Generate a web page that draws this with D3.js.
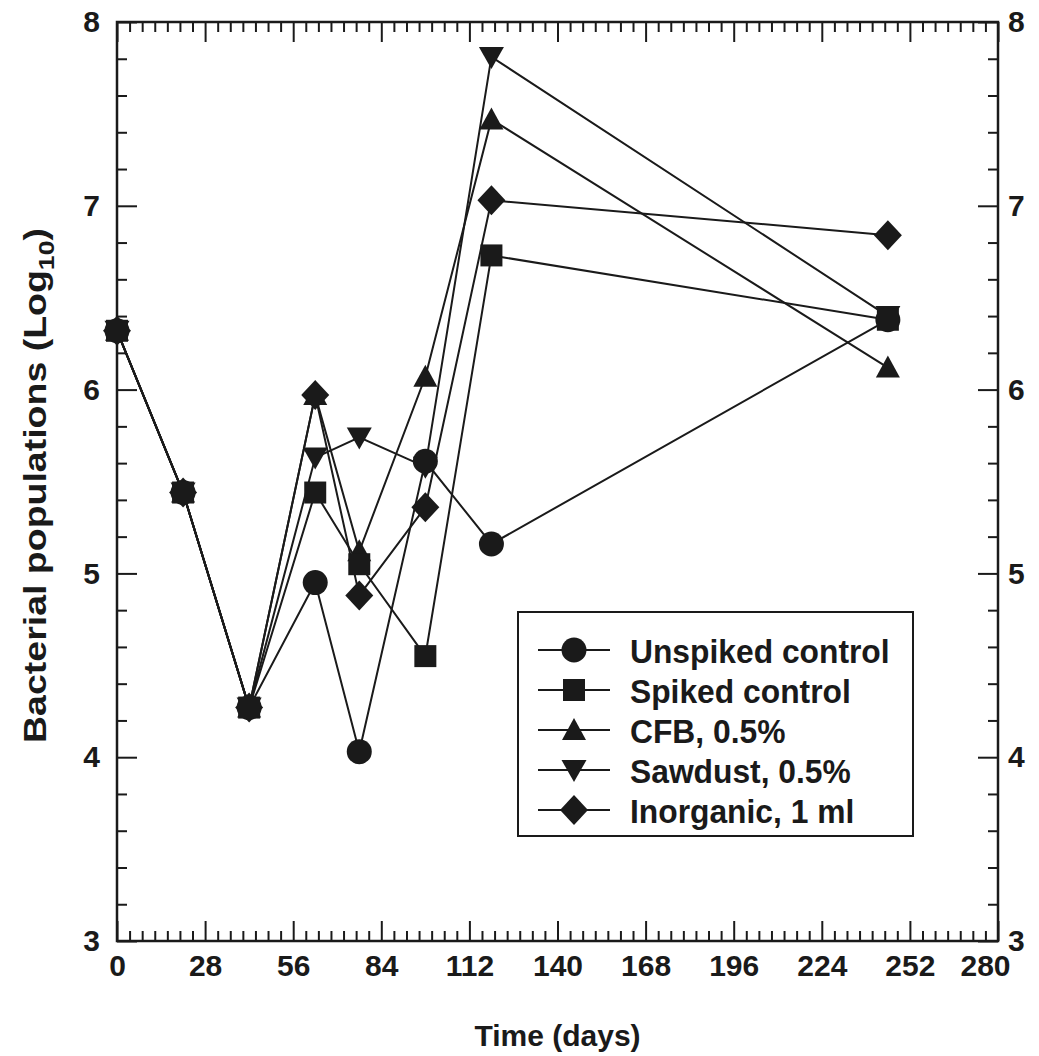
<!DOCTYPE html>
<html>
<head>
<meta charset="utf-8">
<script src="https://cdn.jsdelivr.net/npm/d3@7"></script>
<style>
  html, body { margin: 0; padding: 0; background: #fff; }
  svg { display: block; }
  text { font-family: "Liberation Sans", Arial, sans-serif; font-weight: bold; fill: #1a1a1a; }
</style>
</head>
<body>
<svg id="chart" width="1039" height="1056"></svg>
<script>
// ---- data ----
const days = [0, 21, 42, 63, 77, 98, 119, 245];
const unspiked  = [6.32, 5.44, 4.27, 4.95, 4.03, 5.61, 5.16, 6.38];
const spiked    = [6.32, 5.44, 4.27, 5.44, 5.05, 4.55, 6.73, 6.38];
const cfb       = [6.32, 5.44, 4.27, 5.97, 5.12, 6.07, 7.47, 6.12];
const sawdust   = [6.32, 5.44, 4.27, 5.63, 5.74, 5.58, 7.81, 6.40];
const inorganic = [6.32, 5.44, 4.27, 5.97, 4.88, 5.36, 7.03, 6.84];
const seriesNames = ["Unspiked control", "Spiked control", "CFB, 0.5%", "Sawdust, 0.5%", "Inorganic, 1 ml"];
const seriesSymbols = ["circle", "square", "triangleUp", "triangleDown", "diamond"];
const xTicks = [0, 28, 56, 84, 112, 140, 168, 196, 224, 252, 280];
const yTicks = [3, 4, 5, 6, 7, 8];
const xTitle = "Time (days)";

const seriesValues = [unspiked, spiked, cfb, sawdust, inorganic];
const series = seriesNames.map((name, i) => ({
  name, symbol: seriesSymbols[i],
  points: days.map((d, j) => ({ day: d, value: seriesValues[i][j] }))
}));

// ---- layout ----
const svg = d3.select("#chart");
const x = d3.scaleLinear().domain([0, 280]).range([117, 998]);
const y = d3.scaleLinear().domain([3, 8]).range([941, 22]);
const ink = "#1a1a1a";

// symbol paths
function symbolPath(type) {
  switch (type) {
    case "circle": return "M12.5,0A12.5,12.5 0 1,1 -12.5,0A12.5,12.5 0 1,1 12.5,0Z";
    case "square": return "M-11,-11H11V11H-11Z";
    case "triangleUp": return "M0,-12L12,10L-12,10Z";
    case "triangleDown": return "M0,12L12.5,-10L-12.5,-10Z";
    case "diamond": return "M0,-15L14,0L0,15L-14,0Z";
  }
}

// ---- axes ----
const minorX = d3.range(0, 281, 4).filter(v => v % 28 !== 0);
const minorY = d3.range(3, 8.001, 0.2).map(v => +v.toFixed(1)).filter(v => Math.abs(v - Math.round(v)) > 1e-6);

function styleAxis(g) {
  g.select(".domain").remove();
  g.selectAll(".tick line").attr("stroke", ink).attr("stroke-width", 2);
  g.selectAll(".tick text").style("font-size", "30px").attr("fill", ink);
}

// bottom
svg.append("g").attr("transform", `translate(0,${y(3)})`)
  .call(d3.axisBottom(x).tickValues(xTicks).tickFormat(d3.format("d")).tickSizeInner(-20).tickSizeOuter(0).tickPadding(14))
  .call(styleAxis)
  .call(g => g.selectAll(".tick text").attr("dy", "0.71em")
    .filter(d => d === 280).attr("dx", -13));
svg.append("g").attr("transform", `translate(0,${y(3)})`)
  .call(d3.axisBottom(x).tickValues(minorX).tickFormat("").tickSizeInner(-10).tickSizeOuter(0))
  .call(styleAxis);
// top
svg.append("g").attr("transform", `translate(0,${y(8)})`)
  .call(d3.axisTop(x).tickValues(xTicks).tickFormat("").tickSizeInner(-20).tickSizeOuter(0))
  .call(styleAxis);
svg.append("g").attr("transform", `translate(0,${y(8)})`)
  .call(d3.axisTop(x).tickValues(minorX).tickFormat("").tickSizeInner(-10).tickSizeOuter(0))
  .call(styleAxis);
// left
svg.append("g").attr("transform", `translate(${x(0)},0)`)
  .call(d3.axisLeft(y).tickValues(yTicks).tickFormat(d3.format("d")).tickSizeInner(-20).tickSizeOuter(0).tickPadding(17))
  .call(styleAxis);
svg.append("g").attr("transform", `translate(${x(0)},0)`)
  .call(d3.axisLeft(y).tickValues(minorY).tickFormat("").tickSizeInner(-10).tickSizeOuter(0))
  .call(styleAxis);
// right
svg.append("g").attr("transform", `translate(${x(280)},0)`)
  .call(d3.axisRight(y).tickValues(yTicks).tickFormat(d3.format("d")).tickSizeInner(-20).tickSizeOuter(0).tickPadding(10))
  .call(styleAxis);
svg.append("g").attr("transform", `translate(${x(280)},0)`)
  .call(d3.axisRight(y).tickValues(minorY).tickFormat("").tickSizeInner(-10).tickSizeOuter(0))
  .call(styleAxis);

// frame
svg.append("rect")
  .attr("x", x(0)).attr("y", y(8))
  .attr("width", x(280) - x(0)).attr("height", y(3) - y(8))
  .attr("fill", "none").attr("stroke", ink).attr("stroke-width", 2.5);

// axis titles
svg.append("text")
  .attr("x", (x(0) + x(280)) / 2).attr("y", 1046)
  .attr("text-anchor", "middle").style("font-size", "30px")
  .text(xTitle);

const yt = svg.append("text")
  .attr("transform", `translate(46,${(y(3) + y(8)) / 2 + 4}) rotate(-90) scale(1.21,1)`)
  .attr("text-anchor", "middle").style("font-size", "31px");
yt.append("tspan").text("Bacterial populations (Log");
yt.append("tspan").attr("dy", 8).style("font-size", "22px").text("10");
yt.append("tspan").attr("dy", -8).text(")");

// ---- lines ----
const line = d3.line().x(d => x(d.day)).y(d => y(d.value));
svg.append("g").selectAll("path.series")
  .data(series).join("path")
  .attr("class", "series")
  .attr("d", d => line(d.points))
  .attr("fill", "none").attr("stroke", ink).attr("stroke-width", 2);

// ---- markers (drawing order chosen so overlaps look like the original) ----
const markerOrder = [3, 2, 4, 0, 1];
markerOrder.forEach(i => {
  const s = series[i];
  svg.append("g").selectAll("path")
    .data(s.points).join("path")
    .attr("transform", d => `translate(${x(d.day)},${y(d.value)})`)
    .attr("d", symbolPath(s.symbol))
    .attr("fill", ink);
});

// ---- legend ----
const lg = svg.append("g");
lg.append("rect").attr("x", 518).attr("y", 612).attr("width", 395).attr("height", 224)
  .attr("fill", "#fff").attr("stroke", ink).attr("stroke-width", 2);
const rows = lg.selectAll("g.row").data(series).join("g")
  .attr("class", "row")
  .attr("transform", (d, i) => `translate(0,${650 + i * 40})`);
rows.append("line").attr("x1", 538).attr("x2", 610).attr("y1", 0).attr("y2", 0)
  .attr("stroke", ink).attr("stroke-width", 2);
rows.append("path").attr("transform", "translate(574,0)")
  .attr("d", d => symbolPath(d.symbol)).attr("fill", ink);
rows.append("text")
  .attr("transform", "translate(630,13) scale(0.935,1)")
  .style("font-size", "34px")
  .text(d => d.name);
</script>
</body>
</html>
